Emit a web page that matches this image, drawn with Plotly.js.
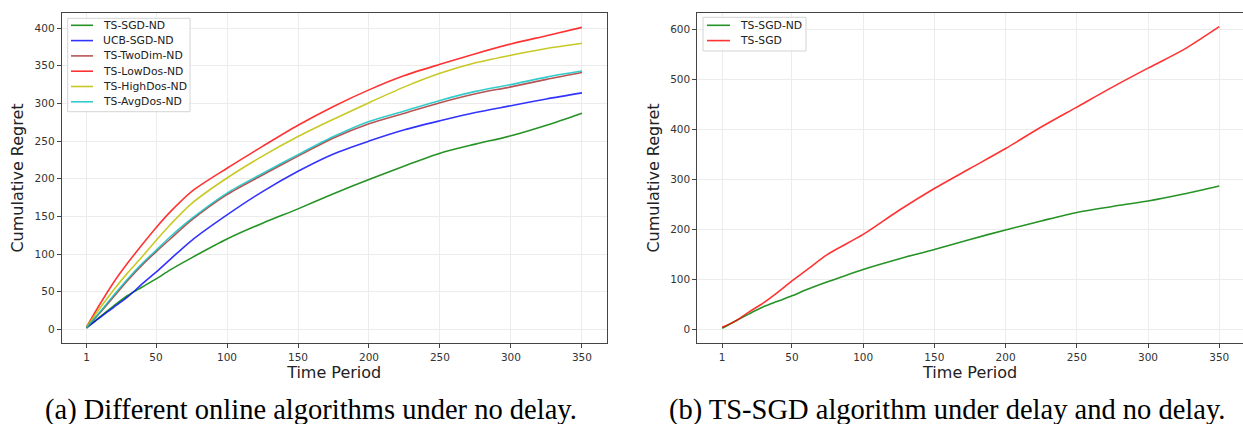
<!DOCTYPE html>
<html>
<head>
<meta charset="utf-8">
<script src="https://cdn.plot.ly/plotly-3.0.1.min.js"></script>
<style>html,body{margin:0;padding:0;background:#fff;}#chart{width:1243px;height:424px;}</style>
</head>
<body>
<div id="chart"></div>
<script>
// Time periods at which values were read
const periods = [1, 10, 20, 30, 40, 50, 60, 75, 100, 125, 150, 175, 200, 225, 250, 275, 300, 325, 350];

// (a) Different online algorithms under no delay
const tsSgdND     = [2, 16, 31, 45, 56, 67, 79, 95, 120, 141, 160, 180, 199, 217, 234, 246, 257, 271, 287];
const ucbSgdND    = [2, 15, 29, 43, 60, 76, 93, 118, 152, 183, 210, 233, 250, 265, 277, 288, 297, 306, 314];
const tsTwoDimND  = [2, 21, 43, 65, 85, 103, 120, 145, 179, 205, 230, 254, 273, 287, 301, 313, 322, 332, 341];
const tsLowDosND  = [3, 32, 62, 88, 112, 135, 156, 183, 214, 243, 271, 296, 318, 337, 352, 366, 379, 390, 401];
const tsHighDosND = [3, 27, 52, 75, 96, 118, 139, 167, 201, 230, 256, 279, 301, 322, 340, 354, 364, 373, 380];
const tsAvgDosND  = [2, 22, 45, 67, 87, 105, 123, 147, 181, 207, 232, 256, 276, 290, 304, 316, 325, 335, 343];

// (b) TS-SGD algorithm under delay and no delay
const tsSgd       = [4, 16, 35, 53, 74, 97, 118, 150, 190, 238, 282, 322, 362, 405, 445, 485, 523, 560, 606];

const namesA = ['TS-SGD-ND', 'UCB-SGD-ND', 'TS-TwoDim-ND', 'TS-LowDos-ND', 'TS-HighDos-ND', 'TS-AvgDos-ND'];
const valuesA = [tsSgdND, ucbSgdND, tsTwoDimND, tsLowDosND, tsHighDosND, tsAvgDosND];
const colorsA = ['rgba(0,128,0,0.85)', 'rgba(0,0,255,0.8)', 'rgba(165,42,42,0.8)', 'rgba(255,0,0,0.8)', 'rgba(191,191,0,0.85)', 'rgba(0,191,191,0.8)'];

const namesB = ['TS-SGD-ND', 'TS-SGD'];
const valuesB = [tsSgdND, tsSgd];
const colorsB = ['rgba(0,128,0,0.85)', 'rgba(255,0,0,0.8)'];

const xTicks = [1, 50, 100, 150, 200, 250, 300, 350];

const traces = [];
namesA.forEach((n, i) => traces.push({
  x: periods, y: valuesA[i], name: n, type: 'scatter', mode: 'lines',
  line: {color: colorsA[i], width: 1.6, shape: 'spline', smoothing: 0.8}, xaxis: 'x', yaxis: 'y', showlegend: false
}));
namesB.forEach((n, i) => traces.push({
  x: periods, y: valuesB[i], name: n, type: 'scatter', mode: 'lines',
  line: {color: colorsB[i], width: 1.6, shape: 'spline', smoothing: 0.8}, xaxis: 'x2', yaxis: 'y2', showlegend: false
}));

const W = 1243, H = 424;
const px = v => v / W;
const py = v => 1 - v / H;

// Matplotlib-style legend boxes (layout decoration, built from the names / colours)
const shapes = [];
const annotations = [];
function legendBox(names, colors, box, lineX, textX, firstRow, rowH) {
  shapes.push({type: 'rect', xref: 'paper', yref: 'paper', layer: 'above',
    x0: px(box[0]), x1: px(box[1]), y0: py(box[3]), y1: py(box[2]),
    line: {color: '#d4d4d4', width: 1}, fillcolor: 'rgba(255,255,255,0.85)'});
  names.forEach((n, i) => {
    const yc = firstRow + i * rowH;
    shapes.push({type: 'line', xref: 'paper', yref: 'paper', layer: 'above',
      x0: px(lineX[0]), x1: px(lineX[1]), y0: py(yc), y1: py(yc),
      line: {color: colors[i], width: 1.6}});
    annotations.push({text: n, xref: 'paper', yref: 'paper', x: px(textX), y: py(yc),
      xanchor: 'left', yanchor: 'middle', showarrow: false,
      font: {family: 'DejaVu Sans', size: 10.8, color: '#222'}});
  });
}
legendBox(namesA, colorsA, [67.7, 190, 18.3, 111.7], [71, 93], 100.5, 25.3, 15.3);
legendBox(namesB, colorsB, [703, 806, 17.3, 51], [707, 730], 738, 25.3, 15.3);

annotations.push(
  {text: '(a) Different online algorithms under no delay.', xref: 'paper', yref: 'paper',
   x: px(311), y: py(410), xanchor: 'center', yanchor: 'middle', showarrow: false,
   font: {family: 'Liberation Serif', size: 28.5, color: '#000'}},
  {text: '(b) TS-SGD algorithm under delay and no delay.', xref: 'paper', yref: 'paper',
   x: px(947), y: py(410), xanchor: 'center', yanchor: 'middle', showarrow: false,
   font: {family: 'Liberation Serif', size: 28.5, color: '#000'}}
);

const tickFont = {family: 'DejaVu Sans', size: 10.5, color: '#333'};
const titleFont = {family: 'DejaVu Sans', size: 16, color: '#222'};
const common = {
  showgrid: true, gridcolor: '#ececec', gridwidth: 1,
  showline: true, linecolor: '#444', linewidth: 1, mirror: true,
  ticks: 'outside', ticklen: 4, tickcolor: '#444', tickwidth: 1,
  tickfont: tickFont, zeroline: false
};

const ydom = [py(343.3), py(12.7)];

const layout = {
  width: W, height: H,
  margin: {l: 0, r: 0, t: 0, b: 0},
  paper_bgcolor: '#fff', plot_bgcolor: '#fff',
  showlegend: false,
  xaxis: Object.assign({}, common, {
    domain: [px(61.7), px(606.7)], range: [-16.45, 367.45],
    tickvals: xTicks, ticktext: xTicks.map(String),
    title: {text: 'Time Period', font: titleFont, standoff: 3}
  }),
  yaxis: Object.assign({}, common, {
    domain: ydom, range: [-18.5, 420.5], dtick: 50,
    title: {text: 'Cumulative Regret', font: titleFont, standoff: 6}
  }),
  xaxis2: Object.assign({}, common, {
    anchor: 'y2', domain: [px(697.3), 1], range: [-16.45, 366.7],
    tickvals: xTicks, ticktext: xTicks.map(String),
    title: {text: 'Time Period', font: titleFont, standoff: 3}
  }),
  yaxis2: Object.assign({}, common, {
    anchor: 'x2', domain: ydom, range: [-28, 634], dtick: 100,
    title: {text: 'Cumulative Regret', font: titleFont, standoff: 6}
  }),
  shapes: shapes,
  annotations: annotations
};

Plotly.newPlot('chart', traces, layout, {displayModeBar: false, staticPlot: true});
</script>
</body>
</html>
